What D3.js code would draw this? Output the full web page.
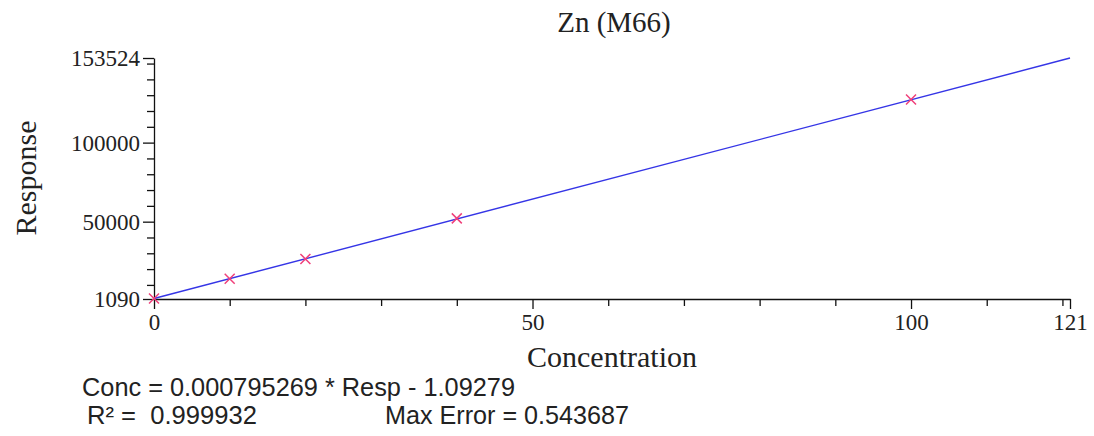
<!DOCTYPE html>
<html>
<head>
<meta charset="utf-8">
<script src="https://cdn.jsdelivr.net/npm/d3@7"></script>
<style>
  html, body { margin: 0; padding: 0; background: #fff; }
  svg { display: block; }
  text { white-space: pre; }
</style>
</head>
<body>
<svg id="chart" width="1094" height="436"></svg>
<script>
// ---- data ----
const title = "Zn (M66)";
const xLabel = "Concentration";
const yLabel = "Response";
const concentrations = [0, 10, 20, 40, 100];
const responses = [1374, 13950, 26450, 52100, 127300];
const fitConc = [0, 121];
const fitResp = [1374, 153524];
const xDomain = [0, 121];
const yDomain = [1090, 153524];
const xMajorTicks = [0, 50, 100, 121];
const xMinorTicks = [10, 20, 30, 40, 60, 70, 80, 90, 110, 120];
const yMajorTicks = [1090, 50000, 100000, 153524];
const yMinorTicks = [10000, 20000, 30000, 40000, 60000, 70000, 80000, 90000, 110000, 120000, 130000, 140000, 150000];
const equationLine = "Conc = 0.000795269 * Resp - 1.09279";
const r2Line = "R\u00B2 =  0.999932";
const maxErrorLine = "Max Error = 0.543687";

// ---- layout ----
const svg = d3.select("#chart");
const serif = "'Liberation Serif', 'Times New Roman', serif";
const sans = "'Liberation Sans', Arial, sans-serif";

const x = d3.scaleLinear().domain(xDomain).range([154, 1070]);
const y = d3.scaleLinear().domain(yDomain).range([299, 58]);

// axes
const xMinor = svg.append("g").attr("transform", `translate(0,${y(yDomain[0])})`)
  .call(d3.axisBottom(x).tickValues(xMinorTicks).tickSize(7).tickFormat(""));
const xMajor = svg.append("g").attr("transform", `translate(0,${y(yDomain[0])})`)
  .call(d3.axisBottom(x).tickValues(xMajorTicks).tickSize(10).tickSizeOuter(0).tickPadding(5).tickFormat(d3.format("d")));
const yMinor = svg.append("g").attr("transform", `translate(${x(xDomain[0])},0)`)
  .call(d3.axisLeft(y).tickValues(yMinorTicks).tickSize(7).tickFormat(""));
const yMajor = svg.append("g").attr("transform", `translate(${x(xDomain[0])},0)`)
  .call(d3.axisLeft(y).tickValues(yMajorTicks).tickSize(11).tickSizeOuter(0).tickPadding(3).tickFormat(d3.format("d")));

[xMinor, yMinor].forEach(g => g.select(".domain").remove());
[xMinor, xMajor, yMinor, yMajor].forEach(g => {
  g.selectAll("line").attr("stroke", "#111").attr("stroke-width", 1.3);
  g.selectAll(".domain").attr("stroke", "#111").attr("stroke-width", 1.3);
  g.selectAll("text").attr("fill", "#222").style("font-family", serif).style("font-size", "23px");
});
xMajor.selectAll("text").attr("dy", "0.71em");
yMajor.selectAll("text").attr("dy", "0.34em");

// fit line
const line = d3.line().x(d => x(d[0])).y(d => y(d[1]));
svg.append("path")
  .datum(fitConc.map((c, i) => [c, fitResp[i]]))
  .attr("d", line)
  .attr("fill", "none")
  .attr("stroke", "#3535e6")
  .attr("stroke-width", 1.4);

// point markers (x crosses)
const s = 5;
const pts = svg.append("g").selectAll("g")
  .data(concentrations.map((c, i) => [c, responses[i]]))
  .join("g")
  .attr("transform", d => `translate(${x(d[0])},${y(d[1])})`);
pts.append("path")
  .attr("d", `M${-s},${-s}L${s},${s}M${-s},${s}L${s},${-s}`)
  .attr("stroke", "#f0407a")
  .attr("stroke-width", 1.5)
  .attr("fill", "none");

// titles
svg.append("text").attr("x", 614).attr("y", 32).attr("text-anchor", "middle")
  .style("font-family", serif).style("font-size", "29px").attr("fill", "#222").text(title);
svg.append("text").attr("x", 612).attr("y", 367).attr("text-anchor", "middle")
  .style("font-family", serif).style("font-size", "30px").attr("fill", "#222").text(xLabel);
svg.append("text").attr("transform", "translate(36,178) rotate(-90)").attr("text-anchor", "middle")
  .style("font-family", serif).style("font-size", "30px").attr("fill", "#222").text(yLabel);

// regression info
svg.append("text").attr("x", 82).attr("y", 396)
  .style("font-family", sans).style("font-size", "25px").attr("fill", "#222")
  .attr("textLength", 433).attr("lengthAdjust", "spacingAndGlyphs").text(equationLine);
svg.append("text").attr("x", 87).attr("y", 424)
  .style("font-family", sans).style("font-size", "25px").attr("fill", "#222")
  .attr("textLength", 170).attr("lengthAdjust", "spacingAndGlyphs").text(r2Line);
svg.append("text").attr("x", 385).attr("y", 424)
  .style("font-family", sans).style("font-size", "25px").attr("fill", "#222")
  .attr("textLength", 244).attr("lengthAdjust", "spacingAndGlyphs").text(maxErrorLine);
</script>
</body>
</html>
